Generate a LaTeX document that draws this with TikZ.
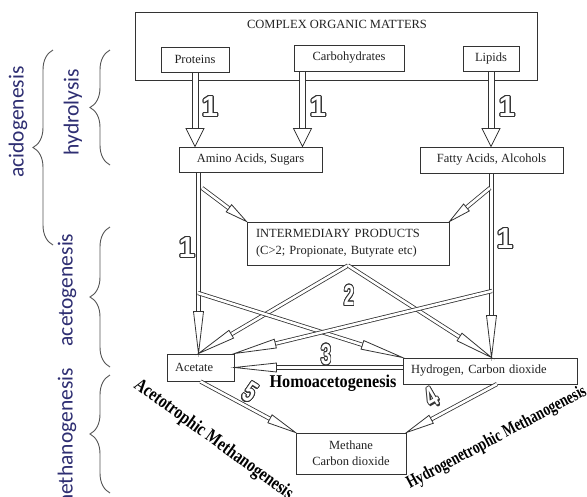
\documentclass[tikz,border=0pt]{standalone}
\usepackage{fontspec}
\setmainfont{Liberation Serif}
\newfontfamily\lblfont{Carlito}
\newfontfamily\digfont{Liberation Sans}
\usepackage{contour}
\contourlength{1.1pt}
\usetikzlibrary{calc,decorations.pathreplacing}
\definecolor{ln}{HTML}{333333}
\definecolor{txt}{HTML}{222222}
\definecolor{navy}{HTML}{2E2E72}
\definecolor{brc}{HTML}{555555}
\tikzset{
  box/.style={draw=ln, line width=1pt, inner sep=0pt, text=txt,
    font=\fontsize{12.5}{17}\selectfont},
  wideshaft/.style={draw=ln, line width=1pt, double=white, double distance=5pt},
  thinshaft/.style={draw=ln, line width=0.8pt, double=white, double distance=2.6pt},
  headst/.style={draw=ln, line width=0.8pt, fill=white, line join=miter},
  num/.style={font=\digfont\bfseries\fontsize{29}{29}\selectfont, text=white, inner sep=0pt},
  lbl/.style={font=\lblfont\fontsize{21.5}{24}\selectfont, text=navy, inner sep=0pt},
  brc/.style={draw=brc, line width=0.9pt, decorate, decoration={brace, amplitude=20pt}},
  proc/.style={font=\bfseries\fontsize{18}{20}\selectfont, text=black, inner sep=0pt}
}
% hollow arrow: #1 shaft style, #2 from, #3 to, #4 head length, #5 head half width
\newcommand\harr[5]{%
  \coordinate (hb) at ($(#3)!#4!(#2)$);
  \coordinate (hl) at ($(hb)!#5!90:(#3)$);
  \coordinate (hr) at ($(hb)!#5!-90:(#3)$);
  \draw[#1] (#2) -- (hb);
  \draw[headst] (#3) -- (hl) -- (hr) -- cycle;
}
\begin{document}
\begin{tikzpicture}[x=1pt,y=-1pt]
\fill[white] (0,0) rectangle (587,496);
\useasboundingbox (0,0) rectangle (587,496);

% left labels and braces
\node[lbl, rotate=90] (acid) at (18,122) {acidogenesis};
\node[lbl, rotate=90] (hydl) at (73,112) {hydrolysis};
\node[lbl, rotate=90] (acet lbl) at (67,290) {acetogenesis};
\node[lbl, rotate=90] (meth lbl) at (67,440) {methanogenesis};
\draw[brc] (53,245) -- (53,50);
\draw[brc] (110,165) -- (110,50);
\draw[brc] (110,367) -- (110,227);
\draw[brc] (110,493) -- (110,375);

% boxes
\node[box, minimum width=402pt, minimum height=68pt] (big) at (336,46) {};
\node[text=txt, font=\fontsize{12.5}{15}\selectfont, inner sep=0pt] (title) at (337,24) {COMPLEX ORGANIC MATTERS};
\node[box, minimum width=68pt, minimum height=25pt] (prot) at (195,59.5) {Proteins};
\node[box, minimum width=110pt, minimum height=26pt] (carb) at (349,58) {Carbohydrates};
\node[box, minimum width=56pt, minimum height=25pt] (lip) at (491,58.5) {Lipids};
\node[box, minimum width=143pt, minimum height=25pt] (amino) at (250.5,159.5) {Amino Acids, Sugars};
\node[box, minimum width=143pt, minimum height=26pt] (fatty) at (491.5,160) {Fatty Acids, Alcohols};
\node[box, minimum height=43pt, text width=184pt, inner xsep=9pt, align=left] (inter) at (348,243.5)
  {INTERMEDIARY PRODUCTS\\(C>2; Propionate, Butyrate etc)};
\node[box, minimum height=27pt, text width=51pt, inner xsep=8pt, align=left] (acet) at (200.5,367.5) {Acetate};
\node[box, minimum height=26pt, text width=158pt, inner xsep=8pt, align=left] (hyd) at (490,371) {Hydrogen, Carbon dioxide};
\node[box, minimum width=110pt, minimum height=41pt, align=center, font=\fontsize{12.5}{16}\selectfont] (meth) at (351,453.5) {Methane\\Carbon dioxide};

% coordinates
\coordinate (as) at (prot.south);
\coordinate (at) at (prot.south |- amino.north);
\coordinate (bs) at ([xshift=9pt]carb.south west);
\coordinate (bt) at (bs |- amino.north);
\coordinate (cs) at (lip.south);
\coordinate (ct) at (lip.south |- fatty.north);
\coordinate (ds) at ([xshift=20pt]amino.south west);
\coordinate (dt) at (ds |- acet.north);
\coordinate (es) at (fatty.south);
\coordinate (et) at (fatty.south |- hyd.north);
\coordinate (fs) at (202,188);
\coordinate (gs) at (490,188);
\coordinate (js) at (198,293);
\coordinate (ks) at (492,291);
\coordinate (ls) at (acet.east -| hyd.west);
\coordinate (ns) at (497,384);

% hydrolysis arrows
\harr{wideshaft}{as}{at}{18pt}{9pt}
\harr{wideshaft}{bs}{bt}{18pt}{9pt}
\harr{wideshaft}{cs}{ct}{18pt}{9pt}

% long arrows
\harr{thinshaft}{ds}{dt}{42pt}{5pt}
\harr{thinshaft}{es}{et}{42pt}{5pt}
\harr{thinshaft}{fs}{inter.north west}{22pt}{4.5pt}
\harr{thinshaft}{gs}{inter.north east}{22pt}{4.5pt}
\harr{thinshaft}{inter.south}{dt}{38pt}{4.5pt}
\harr{thinshaft}{inter.south}{et}{38pt}{4.5pt}
\harr{thinshaft}{js}{hyd.north west}{42pt}{4.5pt}
\harr{thinshaft}{ks}{acet.north east}{42pt}{4.5pt}
\harr{thinshaft}{ls}{acet.east}{42pt}{4.5pt}
\harr{thinshaft}{acet.south}{meth.north west}{29pt}{4.5pt}
\harr{thinshaft}{ns}{meth.north east}{28pt}{4.5pt}

% step numbers
\node[num] (n1a) at (210,107) {\contour{ln}{1}};
\node[num] (n1b) at (318,107) {\contour{ln}{1}};
\node[num] (n1c) at (507,107) {\contour{ln}{1}};
\node[num] (n1d) at (187,248) {\contour{ln}{1}};
\node[num] (n1e) at (505,239) {\contour{ln}{1}};
\node[num, xscale=0.65] (n2) at (349,296) {\contour{ln}{2}};
\node[num, xscale=0.65] (n3) at (326,355) {\contour{ln}{3}};
\node[num, rotate=-32, xscale=0.7] (n5) at (250,393) {\contour{ln}{5}};
\node[num, rotate=30, xscale=0.7] (n4) at (432,398) {\contour{ln}{4}};

% process names
\node[proc, xscale=0.9] (homo) at (333,383) {Homoacetogenesis};
\node[proc, anchor=base west, rotate=-36, xscale=0.8, font=\bfseries\fontsize{19}{21}\selectfont] (acm) at (133,387) {Acetotrophic Methanogenesis};
\node[proc, anchor=base west, rotate=28, xscale=0.75, font=\bfseries\fontsize{18}{20}\selectfont] (hym) at (410,489) {Hydrogenetrophic Methanogenesis};
\end{tikzpicture}
\end{document}
